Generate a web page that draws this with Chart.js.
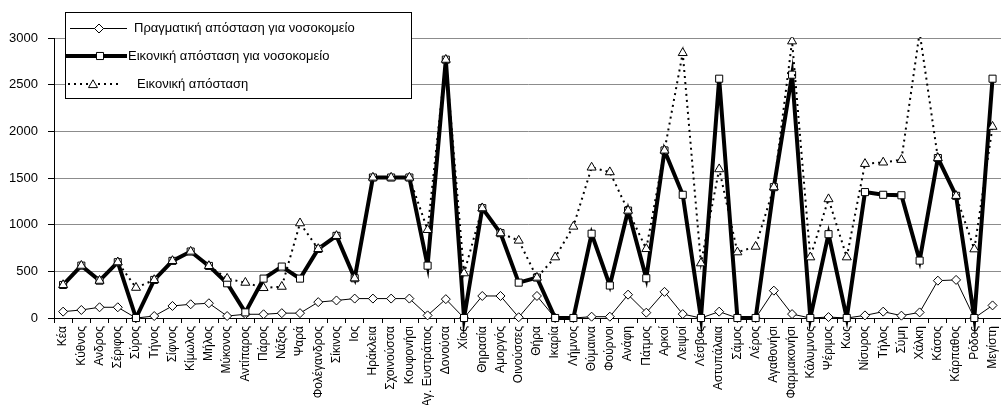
<!DOCTYPE html>
<html><head><meta charset="utf-8">
<script src="https://cdn.jsdelivr.net/npm/chart.js@4"></script>
<style>html,body{margin:0;padding:0;overflow:hidden;background:#fff;width:1001px;height:405px}canvas{display:block}</style>
</head><body><canvas id="c" width="1010" height="405"></canvas>
<script>
const categories = ["Κέα","Κύθνος","Ανδρος","Σέριφος","Σύρος","Τήνος","Σίφνος","Κίμωλος","Μήλος","Μύκονος","Αντίπαρος","Πάρος","Νάξος","Ψαρά","Φολέγανδρος","Σίκινος","Ιος","Ηράκλεια","Σχοινούσσα","Κουφονήσι","Αγ. Ευστράτιος","Δονούσα","Χίος","Θηρασία","Αμοργός","Οινούσσες","Θήρα","Ικαρία","Λήμνος","Θύμαινα","Φούρνοι","Ανάφη","Πάτμος","Αρκοί","Λειψοί","Λέσβος","Αστυπάλαια","Σάμος","Λέρος","Αγαθονήσι","Φαρμακονήσι","Κάλυμνος","Ψέριμος","Κως","Νίσυρος","Τήλος","Σύμη","Χάλκη","Κάσος","Κάρπαθος","Ρόδος","Μεγίστη"];

const realHospitalDistance = [68,86,115,115,0,21,129,147,158,21,40,40,52,52,170,188,208,208,208,208,28,202,0,236,236,8,236,0,0,14,14,250,57,280,42,0,68,0,0,293,42,0,10,0,28,68,25,60,400,408,0,135];

const virtualHospitalDistance = [354,561,400,598,0,408,612,712,558,372,60,422,551,422,740,880,426,1505,1505,1505,561,2768,0,1177,909,379,433,0,0,903,348,1151,426,1795,1320,0,2564,0,0,1402,2607,0,898,0,1349,1320,1315,615,1714,1309,0,2564];

const virtualDistance = [354,561,400,598,325,408,612,712,558,422,379,322,336,1016,740,880,426,1505,1505,1505,944,2768,480,1177,909,830,433,651,980,1613,1563,1151,740,1795,2840,587,1595,705,765,1402,2965,651,1274,651,1652,1667,1695,3060,1714,1309,737,2050];

const yTickValues = [0,500,1000,1500,2000,2500,3000];

const seriesNames = ["Πραγματική απόσταση για νοσοκομείο","Εικονική απόσταση για νοσοκομείο","Εικονική απόσταση"];

const FONT = "'Liberation Sans', Arial, sans-serif";

function marker(ctx, style, x, y, r) {
  ctx.beginPath();
  if (style === 'rectRot') {
    ctx.moveTo(x, y - r); ctx.lineTo(x + r, y); ctx.lineTo(x, y + r); ctx.lineTo(x - r, y); ctx.closePath();
  } else if (style === 'rect') {
    const s = r * Math.SQRT1_2;
    ctx.rect(x - s, y - s, 2 * s, 2 * s);
  } else {
    const a = 2 * Math.PI / 3;
    ctx.moveTo(x, y - r);
    ctx.lineTo(x + Math.sin(a) * r, y - Math.cos(a) * r);
    ctx.lineTo(x + Math.sin(2 * a) * r, y - Math.cos(2 * a) * r);
    ctx.closePath();
  }
  ctx.fillStyle = '#fff'; ctx.fill();
  ctx.lineWidth = 1; ctx.strokeStyle = '#000'; ctx.setLineDash([]); ctx.stroke();
}

const boxLegend = {
  id: 'boxLegend',
  afterDatasetsDraw(chart) {
    const ctx = chart.ctx;
    ctx.save();
    ctx.fillStyle = '#fff';
    ctx.fillRect(65, 12, 347, 87);
    ctx.strokeStyle = '#000'; ctx.lineWidth = 1;
    ctx.strokeRect(65.5, 12.5, 346, 86);
    ctx.font = '13px ' + FONT;
    ctx.textBaseline = 'middle';
    ctx.textAlign = 'left';
    // row 1
    let y = 28;
    ctx.beginPath(); ctx.moveTo(70, y + 0.5); ctx.lineTo(127, y + 0.5); ctx.lineWidth = 1; ctx.strokeStyle = '#000'; ctx.stroke();
    marker(ctx, 'rectRot', 99, y + 0.5, 4.5);
    ctx.fillStyle = '#000'; ctx.fillText(seriesNames[0], 134, y);
    // row 2
    y = 56;
    ctx.beginPath(); ctx.moveTo(66, y); ctx.lineTo(127, y); ctx.lineWidth = 4; ctx.strokeStyle = '#000'; ctx.stroke();
    marker(ctx, 'rect', 100, y, 5);
    ctx.fillStyle = '#000'; ctx.fillText(seriesNames[1], 128, y);
    // row 3
    y = 84;
    ctx.beginPath(); ctx.moveTo(68, y); ctx.lineTo(122, y); ctx.lineWidth = 2; ctx.setLineDash([2, 4]); ctx.strokeStyle = '#000'; ctx.stroke();
    ctx.setLineDash([]);
    marker(ctx, 'triangle', 93, y + 1, 5.2);
    ctx.fillStyle = '#000'; ctx.fillText(seriesNames[2], 137, y);
    ctx.restore();
  }
};

new Chart(document.getElementById('c'), {
  type: 'line',
  data: {
    labels: categories,
    datasets: [
      {
        label: seriesNames[0], data: realHospitalDistance, order: 3,
        borderColor: '#000', borderWidth: 1, pointStyle: 'rectRot', pointRadius: 4.5,
        pointBackgroundColor: '#fff', pointBorderColor: '#000', pointBorderWidth: 1,
        tension: 0, clip: false
      },
      {
        label: seriesNames[1], data: virtualHospitalDistance, order: 2,
        borderColor: '#000', borderWidth: 4, pointStyle: 'rect', pointRadius: 5,
        pointBackgroundColor: '#fff', pointBorderColor: '#000', pointBorderWidth: 1,
        tension: 0, clip: false, borderJoinStyle: 'miter'
      },
      {
        label: seriesNames[2], data: virtualDistance, order: 1,
        borderColor: '#000', borderWidth: 2, borderDash: [2, 4], pointStyle: 'triangle', pointRadius: 5.2,
        pointBackgroundColor: '#fff', pointBorderColor: '#000', pointBorderWidth: 1,
        tension: 0, clip: {left: 10, right: 10, top: 1, bottom: 10}
      }
    ]
  },
  options: {
    responsive: false,
    animation: false,
    events: [],
    layout: { padding: { top: 38, right: 1, left: 0, bottom: 0 } },
    plugins: { legend: { display: false }, tooltip: { enabled: false } },
    scales: {
      x: {
        type: 'category', offset: true,
        grid: { offset: true, drawOnChartArea: false, tickLength: 5, color: '#000', tickColor: '#000' },
        border: { color: '#000', width: 1 },
        ticks: { autoSkip: false, minRotation: 90, maxRotation: 90, padding: 3, color: '#000', font: { family: FONT, size: 12 } },
        afterFit(scale) { scale.height = 87; }
      },
      y: {
        min: 0, max: 3000,
        afterBuildTicks(scale) { scale.ticks = yTickValues.map(v => ({ value: v })); },
        grid: { color: '#8c8c8c', tickLength: 6, tickColor: '#000' },
        border: { color: '#000', width: 1 },
        ticks: { padding: 10, color: '#000', font: { family: FONT, size: 13 }, callback: (v) => String(v) },
        afterFit(scale) { scale.width = 54; }
      }
    }
  },
  plugins: [boxLegend]
});
</script>
</body></html>
